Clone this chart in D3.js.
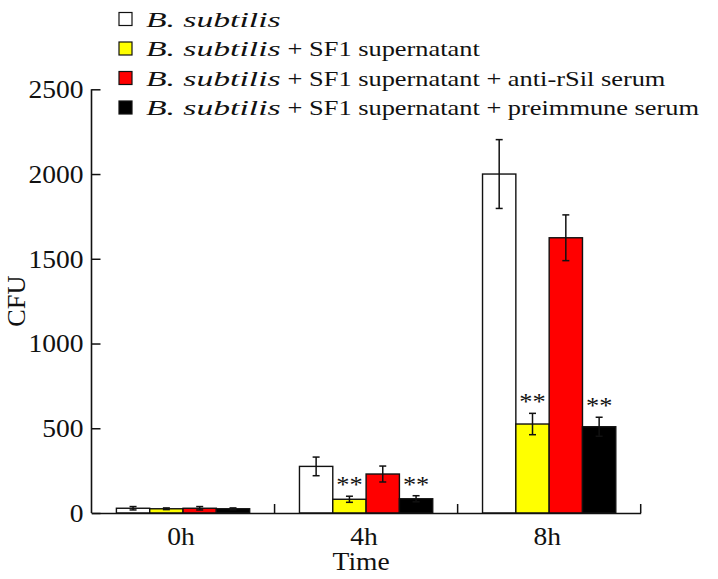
<!DOCTYPE html>
<html>
<head>
<meta charset="utf-8">
<script src="https://cdn.jsdelivr.net/npm/d3@7"></script>
<style>
  html, body { margin: 0; padding: 0; background: #fff; }
  svg { display: block; }
  text { font-family: "Liberation Serif", "Times New Roman", serif; fill: #111; }
</style>
</head>
<body>
<svg id="chart" width="718" height="579"></svg>
<script>
// ---- data ----
const categories = ["0h", "4h", "8h"];
const seriesNames = ["s1", "s2", "s3", "s4"];
const legendItalic = ["B. subtilis", "B. subtilis", "B. subtilis", "B. subtilis"];
const legendRest = ["", "+ SF1 supernatant", "+ SF1 supernatant + anti-rSil serum", "+ SF1 supernatant + preimmune serum"];
const seriesColors = ["#ffffff", "#ffff00", "#ff0000", "#000000"];
const subtilisValues = [28, 275, 2000];
const subtilisErr = [10, 55, 203];
const supernatantValues = [25, 81, 525];
const supernatantErr = [5, 18, 63];
const antiSerumValues = [28, 230, 1624];
const antiSerumErr = [10, 47, 135];
const preimmuneValues = [25, 84, 509];
const preimmuneErr = [5, 18, 56];
const significance = [["", "", ""], ["", "**", "**"], ["", "", ""], ["", "**", "**"]];
const yTicks = [0, 500, 1000, 1500, 2000, 2500];
const xTitle = "Time";
const yTitle = "CFU";

const allValues = [subtilisValues, supernatantValues, antiSerumValues, preimmuneValues];
const allErr = [subtilisErr, supernatantErr, antiSerumErr, preimmuneErr];

// ---- layout ----
const svg = d3.select("#chart");
const pLeft = 91.5, pRight = 640.7, pTop = 89.3, pBottom = 513;
const axisSX = 1.1, italicSX = 1.53, regularSX = 1.2, legFont = 22;

const y = d3.scaleLinear().domain([0, 2500]).range([pBottom, pTop]);
const x0 = d3.scaleBand().domain(categories).range([pLeft, pRight]).padding(0);
const bw = x0.bandwidth();
const pad = bw * 0.136;
const x1 = d3.scaleBand().domain(seriesNames).range([pad, bw - pad]).padding(0);

// bars
const rows = [];
seriesNames.forEach((s, si) => {
  categories.forEach((c, ci) => {
    rows.push({ s, si, c, v: allValues[si][ci], e: allErr[si][ci], sig: significance[si][ci] });
  });
});

const g = svg.append("g");
g.selectAll("rect.bar").data(rows).join("rect")
  .attr("class", "bar")
  .attr("x", d => x0(d.c) + x1(d.s))
  .attr("y", d => y(d.v))
  .attr("width", x1.bandwidth())
  .attr("height", d => y(0) - y(d.v))
  .attr("fill", d => seriesColors[d.si])
  .attr("stroke", "#111")
  .attr("stroke-width", 1.4);

// error bars
const cap = 3.5;
const cx = d => x0(d.c) + x1(d.s) + x1.bandwidth() / 2;
const eb = g.selectAll("g.err").data(rows).join("g").attr("class", "err")
  .attr("stroke", "#111").attr("stroke-width", 1.5);
eb.append("line")
  .attr("x1", cx).attr("x2", cx)
  .attr("y1", d => y(d.v - d.e)).attr("y2", d => y(d.v + d.e));
eb.append("line")
  .attr("x1", d => cx(d) - cap).attr("x2", d => cx(d) + cap)
  .attr("y1", d => y(d.v + d.e)).attr("y2", d => y(d.v + d.e));
eb.append("line")
  .attr("x1", d => cx(d) - cap).attr("x2", d => cx(d) + cap)
  .attr("y1", d => y(d.v - d.e)).attr("y2", d => y(d.v - d.e));

// significance marks
g.selectAll("g.sig").data(rows.filter(d => d.sig)).join("g").attr("class", "sig")
  .attr("transform", d => `translate(${cx(d)},${y(d.v + d.e) - 4}) scale(${axisSX},1)`)
  .append("text")
  .attr("text-anchor", "middle")
  .attr("font-size", 24)
  .attr("fill", "#1a1a2e")
  .text(d => d.sig);

// axes
const yAxis = svg.append("g").attr("transform", `translate(${pLeft},0)`)
  .call(d3.axisLeft(y).tickValues(yTicks).tickSizeInner(-9).tickSizeOuter(0).tickFormat(d3.format("d")));
yAxis.select(".domain").remove();
yAxis.selectAll(".tick line").attr("stroke", "#111").attr("stroke-width", 1.5);
yAxis.selectAll(".tick text").remove();
yAxis.selectAll(".tick").append("g")
  .attr("transform", `translate(-8,0) scale(${axisSX},1)`)
  .append("text").attr("text-anchor", "end").attr("dy", "0.33em")
  .attr("font-size", 25).text(d => d);

svg.append("line").attr("x1", pLeft).attr("x2", pLeft).attr("y1", pTop).attr("y2", pBottom)
  .attr("stroke", "#111").attr("stroke-width", 1.6);

const xAxis = svg.append("g").attr("transform", `translate(0,${pBottom})`)
  .call(d3.axisBottom(x0).tickSize(0).tickSizeOuter(0));
xAxis.select(".domain").attr("stroke", "#111").attr("stroke-width", 1.6);
xAxis.selectAll(".tick text").remove();
xAxis.selectAll(".tick").append("g")
  .attr("transform", `translate(-2,32) scale(${axisSX},1)`)
  .append("text").attr("text-anchor", "middle").attr("font-size", 25).text(d => d);

// category boundary ticks (inward)
const boundaries = categories.slice(1).map(c => x0(c)).concat([pRight]);
svg.selectAll("line.bt").data(boundaries).join("line").attr("class", "bt")
  .attr("x1", d => d).attr("x2", d => d).attr("y1", pBottom).attr("y2", pBottom - 9)
  .attr("stroke", "#111").attr("stroke-width", 1.5);

// titles
svg.append("g").attr("transform", `translate(${(pLeft + pRight) / 2 - 5},570) scale(${axisSX},1)`)
  .append("text").attr("text-anchor", "middle").attr("font-size", 25).text(xTitle);
svg.append("g").attr("transform", `translate(25,${(pTop + pBottom) / 2}) rotate(-90) scale(1.05,1)`)
  .append("text").attr("text-anchor", "middle").attr("font-size", 25).text(yTitle);

// legend
const legY0 = 26.5, legStep = 29.5, legTextX = 146;
const leg = svg.selectAll("g.leg").data(seriesNames).join("g").attr("class", "leg")
  .attr("transform", (d, i) => `translate(0,${legY0 + i * legStep})`);
leg.append("rect").attr("x", 119).attr("y", -14).attr("width", 13).attr("height", 13)
  .attr("fill", (d, i) => seriesColors[i]).attr("stroke", "#111").attr("stroke-width", 1.2);
leg.each(function (d, i) {
  const row = d3.select(this);
  const it = row.append("g").attr("transform", `translate(${legTextX},0) scale(${italicSX},1)`)
    .append("text").attr("font-size", legFont).attr("font-style", "italic").text(legendItalic[i]);
  const w = it.node().getComputedTextLength() * italicSX;
  if (legendRest[i]) {
    row.append("g").attr("transform", `translate(${legTextX + w + 7},0) scale(${regularSX},1)`)
      .append("text").attr("font-size", legFont).text(legendRest[i]);
  }
});
</script>
</body>
</html>
